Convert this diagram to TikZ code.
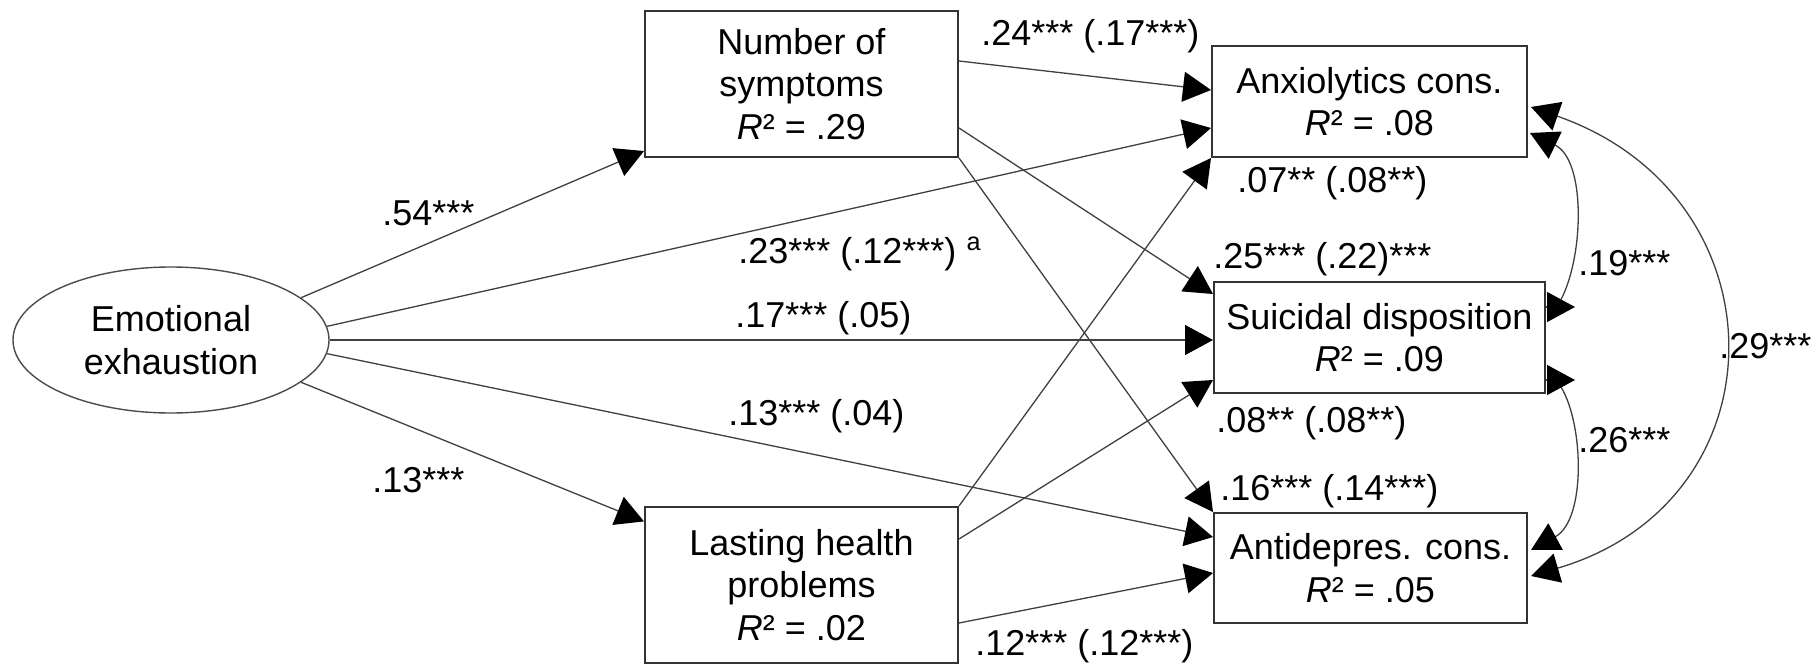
\documentclass[tikz,border=0pt]{standalone}
\usepackage{fontspec}
\setmainfont{Liberation Sans}
\usetikzlibrary{arrows.meta,calc,shapes.geometric}
\begin{document}
\begin{tikzpicture}[x=0.5pt,y=-0.5pt,
  every node/.style={font=\fontsize{18pt}{21.25pt}\selectfont, text=black},
  box/.style={draw=black!80, line width=1pt, rectangle, inner sep=0pt, align=center},
  oval/.style={draw=black!70, line width=0.7pt, ellipse, inner sep=0pt, align=center},
  conn/.style={draw=black!75, line width=0.65pt, -{Triangle[length=14pt,width=15pt,color=black]}},
  curv/.style={draw=black!75, line width=0.65pt, {Triangle[length=14pt,width=15pt,color=black]}-{Triangle[length=14pt,width=15pt,color=black]}},
  lbl/.style={anchor=base west, inner sep=0pt}]

\useasboundingbox (0,0) rectangle (1812,664);
\fill[white] (0,0) rectangle (1812,664);

% nodes
\node[oval, minimum width=158pt, minimum height=73pt] (E) at (171,340) {Emotional\\exhaustion};
\node[box, minimum width=156.5pt, minimum height=73pt] (N) at (801.5,84) {Number of\\symptoms\\{\itshape R}² = .29};
\node[box, minimum width=156.5pt, minimum height=78pt] (L) at (801.5,585) {Lasting health\\problems\\{\itshape R}² = .02};
\node[box, minimum width=157.5pt, minimum height=55.5pt] (A) at (1369.5,101.5) {Anxiolytics cons.\\{\itshape R}² = .08};
\node[box, minimum width=165.5pt, minimum height=55.5pt] (S) at (1379.5,337.5) {Suicidal disposition\\{\itshape R}² = .09};
\node[box, minimum width=156.5pt, minimum height=55pt] (D) at (1370.5,568) {Antidepres. cons.\\{\itshape R}² = .05};

% straight connectors
\draw[conn] (E.18) -- (N);
\draw[conn] (E.-18) -- (L);
\draw[conn] (E.5) -- ($(A.west)+(0,26.5)$);
\draw[conn] (E.0) -- (E.0 -| S.west);
\draw[conn] (E.-5) -- ($(D.west)+(0,-31)$);
\draw[conn] ($(N.east)+(0,-23)$) -- ($(A.west)+(0,-11.5)$);
\draw[conn] ($(N.east)+(0,44)$) -- ($(S.west)+(0,-43.5)$);
\draw[conn] (N.south east) -- (D.north west);
\draw[conn] (L.north east) -- (A.south west);
\draw[conn] ($(L.east)+(0,-46)$) -- ($(S.west)+(0,42.5)$);
\draw[conn] ($(L.east)+(0,38)$) -- ($(D.west)+(0,5)$);

% curved correlations
\draw[curv] ($(A.east)+(3,5.5)$) .. controls +(255,89) and +(255,-75) .. ($(D.east)+(3,8)$);
\draw[conn] ($(S.east)+(15,-38)$) .. controls +(23,-44) and +(56,27) .. ($(A.east)+(2,31.5)$);
\draw[conn] ($(S.east)+(0,-30.5)$) -- ++(29,0);
\draw[conn] ($(S.east)+(15,49.5)$) .. controls +(23,38) and +(55,-30) .. ($(D.east)+(3,-18)$);
\draw[conn] ($(S.east)+(0,42.5)$) -- ++(29,0);

% labels
\node[lbl] (l54) at (382,225) {.54***};
\node[lbl] (l13a) at (372,492) {.13***};
\node[lbl] (l23) at (738,263) {.23*** (.12***) \textsuperscript{a}};
\node[lbl] (l17) at (735,327) {.17*** (.05)};
\node[lbl] (l13b) at (728,425) {.13*** (.04)};
\node[lbl] (l24) at (981,46) {.24*** (.17***)};
\node[lbl] (l12) at (975,655) {.12*** (.12***)};
\node[lbl] (l07) at (1237,192) {.07** (.08**)};
\node[lbl] (l25) at (1213,268) {.25*** (.22)***};
\node[lbl] (l08) at (1216,432) {.08** (.08**)};
\node[lbl] (l16) at (1220,500) {.16*** (.14***)};
\node[lbl] (l19) at (1578,275) {.19***};
\node[lbl] (l26) at (1578,452) {.26***};
\node[lbl] (l29) at (1719,358) {.29***};
\end{tikzpicture}
\end{document}
